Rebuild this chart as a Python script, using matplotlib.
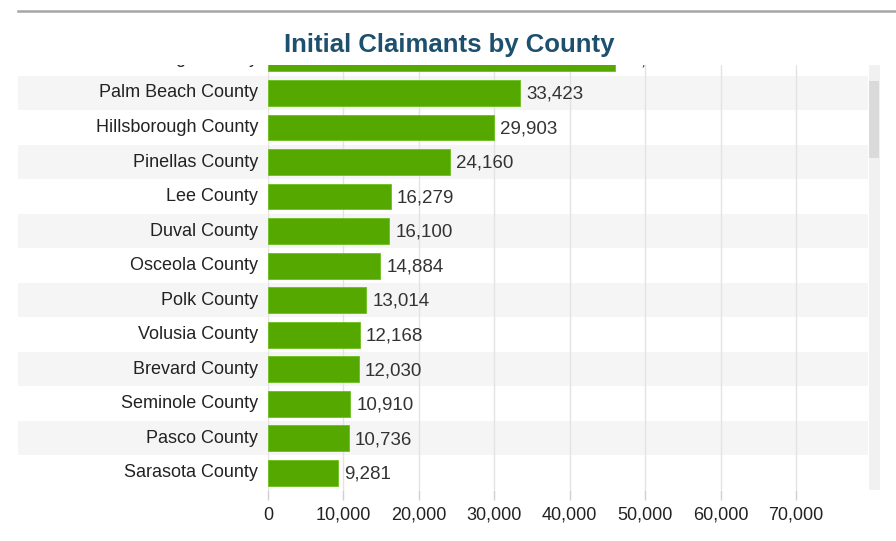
import matplotlib.pyplot as plt
from matplotlib.patches import Rectangle
from matplotlib.transforms import Bbox, TransformedBbox, blended_transform_factory

plt.rcParams['font.family'] = ['Liberation Sans', 'DejaVu Sans']

# data
counties = ['Orange County', 'Palm Beach County', 'Hillsborough County', 'Pinellas County',
            'Lee County', 'Duval County', 'Osceola County', 'Polk County',
            'Volusia County', 'Brevard County', 'Seminole County', 'Pasco County',
            'Sarasota County']
claimants = [45950, 33423, 29903, 24160, 16279, 16100, 14884, 13014,
             12168, 12030, 10910, 10736, 9281]
ticks = [0, 10000, 20000, 30000, 40000, 50000, 60000, 70000]

W, H = 896, 541
fig = plt.figure(figsize=(W / 100, H / 100), dpi=100)

# top separator line
fig.add_artist(plt.Line2D([18 / W, 1], [1 - 11 / H, 1 - 11 / H], color='#a6a6a6', lw=1.8))

fig.text(449 / W, 1 - 45 / H, 'Initial Claimants by County', ha='center', va='center',
         fontsize=18.5, fontweight='bold', color='#1d4f6e')

ax_l, ax_r, ax_t, ax_b = 268, 868, 65, 490
ax = fig.add_axes([ax_l / W, 1 - ax_b / H, (ax_r - ax_l) / W, (ax_b - ax_t) / H])
ax.set_xlim(0, 70000 * (ax_r - ax_l) / (796 - 268))
ax.set_ylim(12.5, 0.19)

y = list(range(len(counties)))

# row bands, reach into the label area
bt = blended_transform_factory(fig.transFigure, ax.transData)
for i in y:
    if i % 2 == 1:
        ax.add_patch(Rectangle((18 / W, i - 0.5), (ax_r - 18) / W, 1.0, transform=bt,
                               facecolor='#f5f5f5', edgecolor='none', zorder=0,
                               clip_on=False))

ax.grid(axis='x', color='#e3e3e3', lw=1)
ax.set_axisbelow(True)
ax.barh(y, claimants, height=0.75, color='#55a800', edgecolor='#6cbf1c', lw=0.6, zorder=3)

# county labels, clipped to the plot height
clip = TransformedBbox(Bbox([[-1, 0], [1, 1]]), ax.transAxes)
lt = blended_transform_factory(ax.transAxes, ax.transData)
for i, name in zip(y, counties):
    t = ax.text(-10 / (ax_r - ax_l), i, name, transform=lt, ha='right', va='center',
                fontsize=13, color='#222222')
    t.set_clip_box(clip)
    t.set_clip_on(True)
    v = ax.text(claimants[i] + 800, i + 0.04, f'{claimants[i]:,}', va='center',
                fontsize=13.5, color='#333333', zorder=4)
    v.set_clip_on(True)

ax.set_yticks([])
ax.set_xticks(ticks)
ax.set_xticklabels([f'{t:,}' for t in ticks], fontsize=13, color='#222222')
ax.tick_params(axis='x', length=7, width=1, color='#cfcfcf', pad=5)
for s in ax.spines.values():
    s.set_visible(False)

# scrollbar
fig.add_artist(Rectangle((869 / W, 1 - 490 / H), 11 / W, 425 / H, transform=fig.transFigure,
                         facecolor='#f1f1f1', edgecolor='none'))
fig.add_artist(Rectangle((869 / W, 1 - 158 / H), 10 / W, 77 / H, transform=fig.transFigure,
                         facecolor='#dadada', edgecolor='none'))

fig.savefig('out.png', dpi=100)
